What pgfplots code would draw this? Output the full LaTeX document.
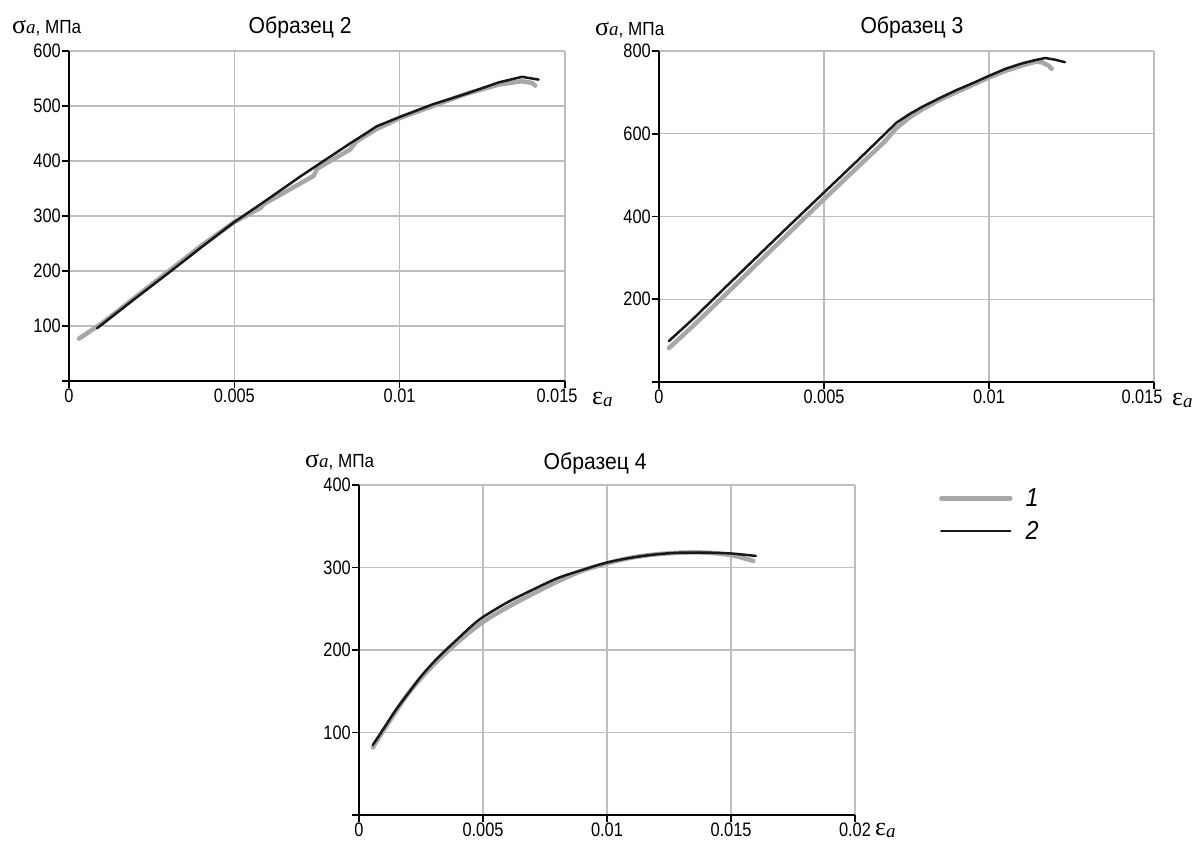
\documentclass[border=0pt]{standalone}
\usepackage{pgfplots}
\pgfplotsset{compat=1.18}
\usepackage{fontspec}
\setmainfont{Liberation Sans}[FakeStretch=0.84]
\newfontfamily\grk{Liberation Serif}
\newfontfamily\ttl{Liberation Sans}[FakeStretch=0.92]
\newfontfamily\plain{Liberation Sans}[FakeStretch=0.9]
\newfontfamily\leg{Liberation Sans}[FakeStretch=0.9]
\definecolor{gcurve}{RGB}{168,168,168}
\definecolor{bcurve}{RGB}{25,25,25}
\definecolor{gridc}{RGB}{190,190,190}
\newcommand{\sig}{{\grk\fontsize{26}{26}\selectfont σ}{\grk\itshape\fontsize{19}{19}\selectfont a}{\plain\fontsize{19}{19}\selectfont, МПа}}
\newcommand{\eps}{{\grk\fontsize{26}{26}\selectfont ε}\raisebox{-2pt}{\grk\itshape\fontsize{19}{19}\selectfont a}}

\pgfplotsset{mystyle/.style={
 scale only axis, width=496pt, height=330pt, anchor=south west,
 axis lines=left, axis line style={-, line width=2pt, black},
 tick align=outside, major tick length=7pt,
 tick style={black, line width=1.6pt},
 grid=major, grid style={gridc, line width=1.3pt},
 scaled x ticks=false, scaled y ticks=false,
 tick label style={font=\fontsize{19.5}{21}\selectfont},
 xticklabel style={inner sep=1pt},
 yticklabel style={inner sep=1pt},
 clip=false,
},
gline/.style={gcurve, line width=4.5pt, line cap=round, line join=round},
bline/.style={bcurve, line width=2.5pt, line cap=round, line join=round}
}

\begin{document}
\begin{tikzpicture}
\path[use as bounding box] (0pt,0pt) rectangle (1204pt,843pt);

% ---------------- Образец 2 ----------------
\begin{axis}[mystyle, at={(69pt,462pt)},
 xmin=0, xmax=0.015, ymin=0, ymax=600,
 xtick={0,0.005,0.01,0.015}, xticklabels={0,0.005,0.01,\hspace*{-16pt}0.015},
 ytick={0,100,200,300,400,500,600}, yticklabels={{},100,200,300,400,500,600}]
\addplot[gline] coordinates {
(0.0003,77) (0.001,105) (0.002,152) (0.003,199) (0.004,246) (0.005,289) (0.0058,315)
(0.0059,322) (0.0074,373) (0.0075,386) (0.0085,421) (0.0087,436) (0.0093,458)
(0.01,478) (0.011,500) (0.012,522) (0.013,539) (0.0137,545) (0.014,542) (0.0141,537)};
\addplot[bline] coordinates {
(0.00085,96) (0.002,150) (0.003,196) (0.004,243) (0.005,289) (0.006,330) (0.007,372)
(0.0075,392) (0.008,412) (0.0085,432) (0.009,451) (0.0093,463) (0.01,480) (0.011,503)
(0.012,522) (0.013,543) (0.0137,553) (0.0142,548)};
\node[anchor=base, yshift=17pt, font=\ttl\fontsize{23}{24}\selectfont] at (rel axis cs:0.466,1) {Образец 2};
\node[anchor=base west, xshift=-57pt, yshift=17pt, inner sep=0pt] at (rel axis cs:0,1) {\sig};
\node[anchor=base west, xshift=27pt, yshift=-24pt, inner sep=0pt] at (rel axis cs:1,0) {\eps};
\end{axis}

% ---------------- Образец 3 ----------------
\begin{axis}[mystyle, at={(659pt,461pt)}, width=495pt, height=331pt,
 xmin=0, xmax=0.015, ymin=0, ymax=800,
 xtick={0,0.005,0.01,0.015}, xticklabels={0,0.005,0.01,\hspace*{-24pt}0.015},
 ytick={0,200,400,600,800}, yticklabels={{},200,400,600,800}]
\addplot[gline] coordinates {
(0.0003,82) (0.001,133) (0.002,210) (0.003,288) (0.004,365) (0.005,442) (0.006,518)
(0.0068,578) (0.0072,614) (0.0076,640) (0.008,660) (0.0085,682) (0.009,700) (0.0095,718)
(0.01,736) (0.0105,752) (0.011,765) (0.0114,774) (0.0116,773) (0.0118,765) (0.0119,757)};
\addplot[bline] coordinates {
(0.0003,99) (0.001,150) (0.002,228) (0.003,305) (0.004,382) (0.005,458) (0.006,534)
(0.0068,596) (0.0072,627) (0.0076,648) (0.008,666) (0.0085,686) (0.009,705) (0.0095,722)
(0.01,740) (0.0105,757) (0.011,770) (0.0114,778) (0.0117,783) (0.012,779) (0.0123,773)};
\node[anchor=base, yshift=17pt, font=\ttl\fontsize{23}{24}\selectfont] at (rel axis cs:0.511,1) {Образец 3};
\node[anchor=base west, xshift=-64pt, yshift=15pt, inner sep=0pt] at (rel axis cs:0,1) {\sig};
\node[anchor=base west, xshift=18pt, yshift=-24pt, inner sep=0pt] at (rel axis cs:1,0) {\eps};
\end{axis}

% ---------------- Образец 4 ----------------
\begin{axis}[mystyle, at={(359pt,28pt)},
 xmin=0, xmax=0.02, ymin=0, ymax=400,
 xtick={0,0.005,0.01,0.015,0.02}, xticklabels={0,0.005,0.01,0.015,0.02},
 ytick={0,100,200,300,400}, yticklabels={{},100,200,300,400},
 legend style={draw=none, fill=none, at={(axis description cs:1.169,0.992)}, anchor=north west,
   inner sep=0pt, row sep=11pt, font=\leg\itshape\fontsize{26}{27}\selectfont, nodes={inner sep=1pt}},
 legend image code/.code={\draw[#1] (0pt,0pt) -- (69pt,0pt); \path (81pt,0pt);},
 legend cell align=left]
\addplot[gline, smooth] coordinates {
(0.00056,82) (0.001,103) (0.002,148) (0.003,182) (0.004,210) (0.005,234) (0.006,252)
(0.007,268) (0.008,283) (0.009,296) (0.01,305) (0.011,312) (0.012,316) (0.013,318)
(0.014,318) (0.015,315) (0.0159,308)};
\addlegendentry{1}
\addplot[bline, smooth] coordinates {
(0.00056,85) (0.001,105) (0.0015,128) (0.002,148) (0.0025,168) (0.003,185) (0.0035,200)
(0.004,214) (0.0045,228) (0.005,240) (0.006,258) (0.007,273) (0.008,287) (0.009,297)
(0.01,306) (0.011,312) (0.012,316) (0.013,318) (0.014,318) (0.015,317) (0.016,314)};
\addlegendentry{2}
\node[anchor=base, yshift=15pt, font=\ttl\fontsize{23}{24}\selectfont] at (rel axis cs:0.476,1) {Образец 4};
\node[anchor=base west, xshift=-54pt, yshift=17pt, inner sep=0pt] at (rel axis cs:0,1) {\sig};
\node[anchor=base west, xshift=20pt, yshift=-20pt, inner sep=0pt] at (rel axis cs:1,0) {\eps};
\end{axis}
\end{tikzpicture}
\end{document}
